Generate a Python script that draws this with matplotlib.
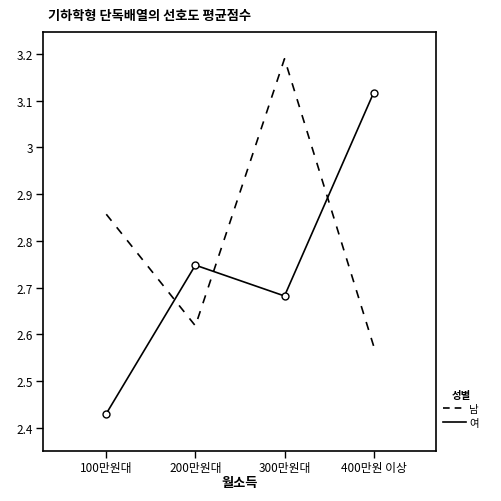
import matplotlib
matplotlib.use("Agg")
import matplotlib.pyplot as plt
from matplotlib.lines import Line2D

plt.rcParams['font.family'] = ['Noto Sans CJK KR', 'DejaVu Sans']

# 월소득 구간별 평균점수 (성별)
income = ['100만원대', '200만원대', '300만원대', '400만원 이상']
male = [2.857, 2.618, 3.19, 2.575]
female = [2.43, 2.748, 2.682, 3.117]
yticks = [2.4, 2.5, 2.6, 2.7, 2.8, 2.9, 3.0, 3.1, 3.2]
ytick_labels = ['2.4', '2.5', '2.6', '2.7', '2.8', '2.9', '3', '3.1', '3.2']

fig = plt.figure(figsize=(5.02, 5.02), dpi=100)
ax = fig.add_axes([0.0857, 0.0996, 0.7828, 0.8344])

x = list(range(len(income)))
ax.plot(x, male, color='black', lw=1.2, dashes=(5, 5))
ax.plot(x, female, color='black', lw=1.2, marker='o', ms=5,
        mfc='white', mec='black', mew=1.0)

ax.set_xlim(-0.71, 3.7)
ax.set_ylim(2.35, 3.247)
ax.set_xticks(x)
ax.set_xticklabels(income, fontsize=8.5)
ax.set_yticks(yticks)
ax.set_yticklabels(ytick_labels, fontsize=8.5)
ax.tick_params(direction='out', length=5, width=1, pad=2)
for s in ax.spines.values():
    s.set_linewidth(1.2)

ax.set_xlabel('월소득', fontsize=9.5, fontweight='bold', labelpad=1)
fig.text(0.096, 0.955, '기하학형 단독배열의 선호도 평균점수', fontsize=9.5,
         fontweight='bold', va='bottom')

# legend: lines only, no markers
handles = [Line2D([], [], color='black', lw=1.2, dashes=(4, 3)),
           Line2D([], [], color='black', lw=1.2)]
leg = ax.legend(handles, ['남', '여'], title='성별', loc='center left',
                bbox_to_anchor=(1.0, 0.1), frameon=False, fontsize=7.5,
                title_fontsize=7.5, handlelength=2.2, handletextpad=0.3,
                labelspacing=0.35, borderpad=0.2)
leg.get_title().set_fontweight('bold')

fig.savefig('out.png', dpi=100)
